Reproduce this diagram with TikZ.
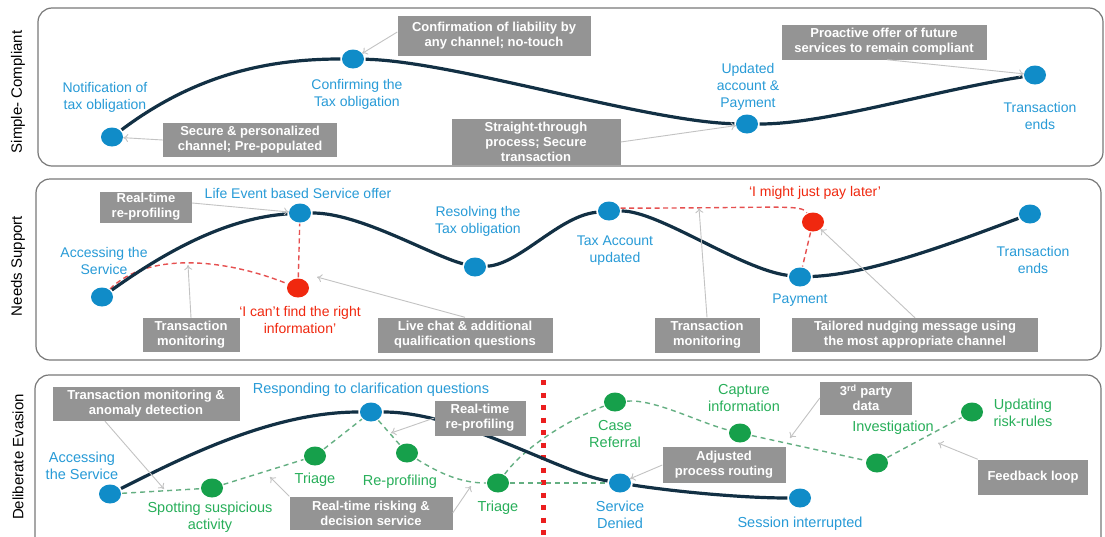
\documentclass[tikz,border=0pt]{standalone}
\usepackage{fontspec}
\setmainfont{Liberation Sans}
\usetikzlibrary{arrows.meta,shapes.geometric}
\definecolor{nodeblue}{RGB}{16,140,200}
\definecolor{labelblue}{RGB}{40,155,215}
\definecolor{navy}{RGB}{18,48,68}
\definecolor{nodegreen}{RGB}{22,160,75}
\definecolor{labelgreen}{RGB}{40,175,90}
\definecolor{dashgreen}{RGB}{100,175,130}
\definecolor{nodered}{RGB}{240,40,15}
\definecolor{dashred}{RGB}{230,80,80}
\definecolor{boxgray}{RGB}{148,148,148}
\definecolor{framegray}{RGB}{120,120,120}
\definecolor{pointergray}{RGB}{195,195,195}
\definecolor{rulered}{RGB}{235,30,30}
\tikzset{
  stage/.style={ellipse, fill=nodeblue, minimum width=22pt, minimum height=19pt, inner sep=0pt},
  lapse/.style={stage, fill=nodered},
  probe/.style={stage, fill=nodegreen},
  mainline/.style={draw=navy, line width=3.2pt, shorten <=1.5pt, shorten >=1.5pt},
  reddash/.style={draw=dashred, line width=1.4pt, dash pattern=on 5pt off 3.5pt, shorten <=1pt, shorten >=1pt},
  greendash/.style={draw=dashgreen, line width=1.4pt, dash pattern=on 5pt off 4pt, shorten <=1pt, shorten >=1pt},
  note/.style={fill=boxgray, text=white, font=\bfseries\fontsize{13}{15}\selectfont, align=center, inner sep=0pt},
  pointer/.style={draw=pointergray, line width=0.9pt, -{To[length=5pt,width=8pt]}},
  bluetext/.style={text=labelblue, font=\fontsize{14}{17}\selectfont, align=center, inner sep=0pt},
  greentext/.style={bluetext, text=labelgreen},
  redtext/.style={bluetext, text=nodered},
  panel/.style={draw=framegray, line width=1.2pt, rounded corners=14pt, fill=white},
  lane/.style={rotate=90, font=\fontsize{15}{17}\selectfont, inner sep=0pt},
  redrule/.style={draw=rulered, line width=5pt, dash pattern=on 5pt off 7.5pt}
}
\begin{document}
\begin{tikzpicture}[x=1pt,y=-1pt]
\clip (0,0) rectangle (1105,536);
\fill[white] (0,0) rectangle (1105,536);

% swimlane frames
\draw[panel] (38,8) rectangle (1103,166);
\draw[panel] (36,179) rectangle (1101,360);
\draw[panel] (35,375) rectangle (1101,560);

\node[lane] (laneA) at (18,92) {Simple- Compliant};
\node[lane] (laneB) at (18,266) {Needs Support};
\node[lane] (laneC) at (18,457) {Deliberate Evasion};

% ---------- Simple- Compliant ----------
\node[stage] (n1) at (112,137) {};
\node[stage] (n2) at (353,59) {};
\node[stage] (n3) at (747,124) {};
\node[stage] (n4) at (1035,75) {};

\draw[mainline] (n1) .. controls +(80,-60) and +(-90,0) .. (n2);
\draw[mainline] (n2) .. controls +(100,2) and +(-100,-2) .. (n3);
\draw[mainline] (n3) .. controls +(80,0) and +(-100,15) .. (n4);

\node[bluetext] (t1) at (105,97) {Notification of\\tax obligation};
\node[bluetext] (t2) at (357,94) {Confirming the\\Tax obligation};
\node[bluetext] (t3) at (748,87) {Updated\\account \&\\Payment};
\node[bluetext] (t4) at (1040,116) {Transaction\\ends};

\node[note, minimum width=193pt, minimum height=40pt] (conf) at (494,36) {Confirmation of liability by\\any channel; no-touch};
\node[note, minimum width=174pt, minimum height=34pt] (secure) at (250,140) {Secure \& personalized\\channel; Pre-populated};
\node[note, minimum width=169pt, minimum height=46pt] (straight) at (536,142) {Straight-through\\process; Secure\\transaction};
\node[note, minimum width=205pt, minimum height=35pt] (proactive) at (884,42) {Proactive offer of future\\services to remain compliant};

\draw[pointer] ([yshift=4pt]conf.west) -- (n2);
\draw[pointer] (secure.west) -- (n1);
\draw[pointer] (straight.east) -- (n3);
\draw[pointer] ([xshift=3pt]proactive.south) -- (n4);

% ---------- Needs Support ----------
\node[stage] (a1) at (102,297) {};
\node[stage] (a2) at (300,213) {};
\node[stage] (a3) at (475,267) {};
\node[stage] (a4) at (609,211) {};
\node[stage] (a5) at (800,277) {};
\node[stage] (a6) at (1030,214) {};
\node[lapse] (r1) at (298,288) {};
\node[lapse] (r2) at (813,222) {};

\draw[reddash] (a1) .. controls +(45,-45) and +(-75,-30) .. (r1);
\draw[reddash] (r1) -- (a2);
\draw[reddash] (a4.15) .. controls +(165,0) and +(-12,-18) .. (r2);
\draw[reddash] (r2) -- (a5);

\draw[mainline] (a1) .. controls +(70,-50) and +(-70,5) .. (a2);
\draw[mainline] (a2) .. controls +(60,0) and +(-45,-12) .. (a3);
\draw[mainline] (a3) .. controls +(45,-3) and +(-50,5) .. (a4);
\draw[mainline] (a4) .. controls +(50,0) and +(-60,-8) .. (a5);
\draw[mainline] (a5) .. controls +(70,-3) and +(-80,30) .. (a6);

\node[bluetext] (s1) at (104,261) {Accessing the\\Service};
\node[bluetext] (s2) at (298,193) {Life Event based Service offer};
\node[bluetext] (s3) at (478,221) {Resolving the\\Tax obligation};
\node[bluetext] (s4) at (615,251) {Tax Account\\updated};
\node[bluetext] (s5) at (800,300) {Payment};
\node[bluetext] (s6) at (1033,260) {Transaction\\ends};
\node[redtext] (s7) at (300,320) {`I can't find the right\\information'};
\node[redtext] (s8) at (815,193) {`I might just pay later'};

\node[note, minimum width=92pt, minimum height=31pt] (rtrep) at (146,207) {Real-time\\re-profiling};
\node[note, minimum width=97pt, minimum height=34pt] (tm1) at (191,335) {Transaction\\monitoring};
\node[note, minimum width=175pt, minimum height=35pt] (live) at (465,335) {Live chat \& additional\\qualification questions};
\node[note, minimum width=105pt, minimum height=35pt] (tm2) at (707,335) {Transaction\\monitoring};
\node[note, minimum width=246pt, minimum height=34pt] (tailored) at (915,335) {Tailored nudging message using\\the most appropriate channel};

\coordinate (c1) at (188,265);
\coordinate (c2) at (317,277);
\coordinate (c3) at (699,208);

\draw[pointer] ([yshift=4pt]rtrep.east) -- (a2);
\draw[pointer] (tm1.north) -- (c1);
\draw[pointer] (live.north) -- (c2);
\draw[pointer] (tm2.north) -- (c3);
\draw[pointer] (tailored.north) -- (r2);

% ---------- Deliberate Evasion ----------
\coordinate (ruletop) at (543,380);
\coordinate (rulebot) at (543,545);
\draw[redrule] (ruletop) -- (rulebot);

\node[stage] (b1) at (110,494) {};
\node[stage] (b2) at (371,412) {};
\node[stage] (b3) at (620,483) {};
\node[stage] (b4) at (800,498) {};
\node[probe] (g1) at (212,488) {};
\node[probe] (g2) at (315,456) {};
\node[probe] (g3) at (407,453) {};
\node[probe] (g4) at (498,483) {};
\node[probe] (g5) at (615,402) {};
\node[probe] (g6) at (740,433) {};
\node[probe] (g7) at (877,463) {};
\node[probe] (g8) at (972,412) {};

\draw[greendash] (b1) -- (g1);
\draw[greendash] (g1) -- (g2);
\draw[greendash] (g2) -- (b2);
\draw[greendash] (b2) -- (g3);
\draw[greendash] (g3) .. controls +(35,22) and +(-35,0) .. (g4);
\draw[greendash] (g4) -- (b3);
\draw[greendash] (g4) .. controls +(30,-40) and +(-40,15) .. (g5);
\draw[greendash] (g5) .. controls +(40,-3) and +(-40,-10) .. (g6);
\draw[greendash] (g6) -- (g7);
\draw[greendash] (g7) -- (g8);

\draw[mainline] (b1) .. controls +(70,-35) and +(-100,0) .. (b2);
\draw[mainline] (b2) .. controls +(90,0) and +(-60,-10) .. (b3);
\draw[mainline] (b3) .. controls +(50,8) and +(-60,0) .. (b4);

\node[bluetext, font=\fontsize{14.5}{17}\selectfont] (u1) at (82,466) {Accessing\\the Service};
\node[bluetext, font=\fontsize{14.5}{17}\selectfont] (u2) at (371,390) {Responding to clarification questions};
\node[bluetext, font=\fontsize{14.5}{17}\selectfont] (u3) at (620,515) {Service\\Denied};
\node[bluetext, font=\fontsize{14.5}{17}\selectfont] (u4) at (800,524) {Session interrupted};
\node[greentext, font=\fontsize{14.5}{17}\selectfont] (v1) at (210,517) {Spotting suspicious\\activity};
\node[greentext, font=\fontsize{14.5}{17}\selectfont] (v2) at (315,480) {Triage};
\node[greentext, font=\fontsize{14.5}{17}\selectfont] (v3) at (400,482) {Re-profiling};
\node[greentext, font=\fontsize{14.5}{17}\selectfont] (v4) at (498,508) {Triage};
\node[greentext, font=\fontsize{14.5}{17}\selectfont] (v5) at (615,434) {Case\\Referral};
\node[greentext, font=\fontsize{14.5}{17}\selectfont] (v6) at (744,398) {Capture\\information};
\node[greentext, font=\fontsize{14.5}{17}\selectfont] (v7) at (893,428) {Investigation};
\node[greentext, font=\fontsize{14.5}{17}\selectfont] (v8) at (1023,413) {Updating\\risk-rules};

\node[note, minimum width=187pt, minimum height=34pt] (tmad) at (146,404) {Transaction monitoring \&\\anomaly detection};
\node[note, minimum width=163pt, minimum height=33pt] (rtrisk) at (371,513) {Real-time risking \&\\decision service};
\node[note, minimum width=91pt, minimum height=35pt] (rtrep3) at (480,418) {Real-time\\re-profiling};
\node[note, minimum width=123pt, minimum height=36pt] (adjusted) at (724,465) {Adjusted\\process routing};
\node[note, minimum width=92pt, minimum height=33pt] (third) at (866,398) {3\textsuperscript{rd} party\\data};
\node[note, minimum width=110pt, minimum height=35pt] (feedback) at (1033,477) {Feedback loop};

\coordinate (c4) at (164,489);
\coordinate (c5) at (270,477);
\coordinate (c6) at (471,486);
\coordinate (c7) at (391,433);
\coordinate (c8) at (790,438);
\coordinate (c9) at (938,443);

\draw[pointer] ([xshift=-41pt]tmad.south) -- (c4);
\draw[pointer] (rtrisk.north west) -- (c5);
\draw[pointer] (rtrisk.east) -- (c6);
\draw[pointer] (rtrep3.west) -- (c7);
\draw[pointer] (adjusted.west) -- (b3);
\draw[pointer] (third.west) -- (c8);
\draw[pointer] (feedback.north west) -- (c9);
\end{tikzpicture}
\end{document}
